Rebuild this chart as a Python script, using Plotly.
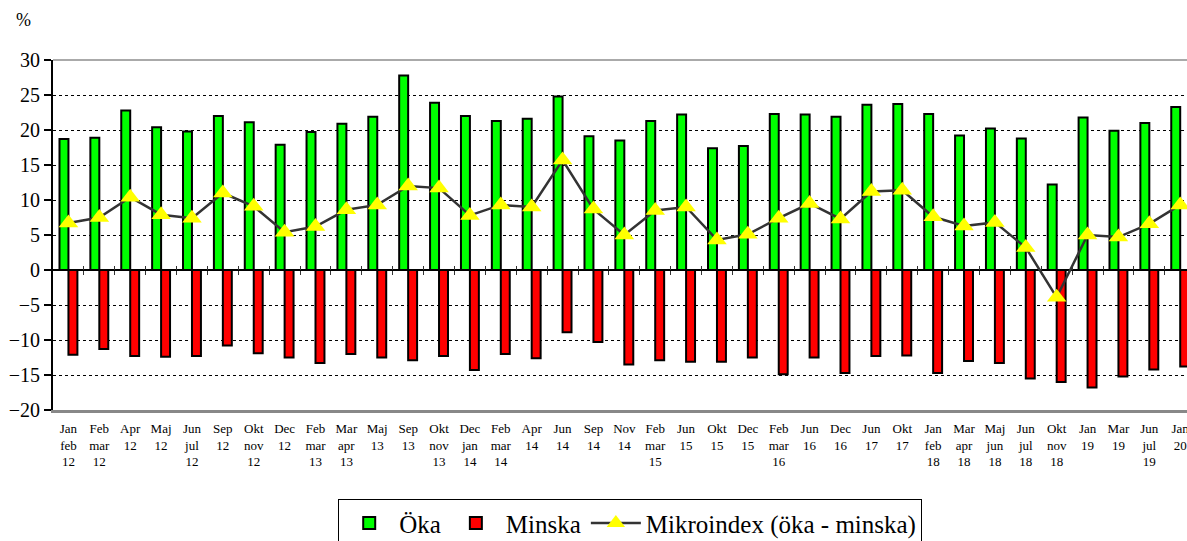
import plotly.graph_objects as go

labels = ["Jan<br>feb<br>12", "Feb<br>mar<br>12", "Apr<br>12", "Maj<br>12", "Jun<br>jul<br>12",
          "Sep<br>12", "Okt<br>nov<br>12", "Dec<br>12", "Feb<br>mar<br>13", "Mar<br>apr<br>13",
          "Maj<br>13", "Sep<br>13", "Okt<br>nov<br>13", "Dec<br>jan<br>14", "Feb<br>mar<br>14",
          "Apr<br>14", "Jun<br>14", "Sep<br>14", "Nov<br>14", "Feb<br>mar<br>15", "Jun<br>15",
          "Okt<br>15", "Dec<br>15", "Feb<br>mar<br>16", "Jun<br>16", "Dec<br>16", "Jun<br>17",
          "Okt<br>17", "Jan<br>feb<br>18", "Mar<br>apr<br>18", "Maj<br>jun<br>18", "Jun<br>jul<br>18",
          "Okt<br>nov<br>18", "Jan<br>19", "Mar<br>19", "Jun<br>jul<br>19", "Jan<br>20"]

oka = [18.7, 18.9, 22.8, 20.4, 19.8, 22.0, 21.1, 17.9, 19.7, 20.9,
       21.9, 27.8, 23.9, 22.0, 21.3, 21.6, 24.8, 19.1, 18.5, 21.3,
       22.2, 17.4, 17.7, 22.3, 22.2, 21.9, 23.6, 23.7, 22.3, 19.2,
       20.2, 18.8, 12.2, 21.8, 19.9, 21.0, 23.3]

minska = [-12.1, -11.3, -12.3, -12.4, -12.3, -10.8, -11.9, -12.5, -13.3, -12.0,
          -12.5, -12.9, -12.3, -14.3, -12.0, -12.6, -8.9, -10.3, -13.5, -12.9,
          -13.1, -13.1, -12.5, -14.9, -12.5, -14.7, -12.3, -12.2, -14.7, -13.0,
          -13.3, -15.5, -16.0, -16.8, -15.2, -14.2, -13.8]

mikroindex = [6.7, 7.5, 10.4, 7.9, 7.4, 11.0, 9.1, 5.4, 6.2, 8.6,
              9.3, 12.0, 11.7, 7.8, 9.3, 9.0, 15.7, 8.7, 5.0, 8.5,
              9.0, 4.3, 5.1, 7.4, 9.5, 7.3, 11.2, 11.4, 7.6, 6.3,
              6.8, 3.2, -3.9, 5.0, 4.7, 6.6, 9.3]

y_ticks = [-20, -15, -10, -5, 0, 5, 10, 15, 20, 25, 30]

idx = list(range(len(labels)))
bounds = [i + 0.5 for i in idx]
FONT = "Liberation Serif"

fig = go.Figure()
fig.add_trace(go.Bar(x=idx, y=oka, name="Öka",
                     marker=dict(color="#00FF00", line=dict(color="black", width=2))))
fig.add_trace(go.Bar(x=idx, y=minska, name="Minska",
                     marker=dict(color="#FF0000", line=dict(color="black", width=2))))
fig.add_trace(go.Scatter(x=idx, y=mikroindex, name="Mikroindex (öka - minska)",
                         mode="lines+markers",
                         line=dict(color="#333333", width=2.5),
                         marker=dict(symbol="triangle-up", size=17, color="#FFFF00",
                                     line=dict(width=0))))
# dummy traces to activate the tick-mark overlay axes at y=0
fig.add_trace(go.Scatter(x=[None], y=[None], xaxis="x2", showlegend=False, hoverinfo="skip"))
fig.add_trace(go.Scatter(x=[None], y=[None], xaxis="x3", showlegend=False, hoverinfo="skip"))

xr = [-0.5, 36.22]
fig.update_layout(
    width=1187, height=541,
    margin=dict(l=53, r=0, t=60, b=131, autoexpand=False),
    paper_bgcolor="white", plot_bgcolor="white",
    barmode="group", bargap=0.42, bargroupgap=0,
    font=dict(family=FONT, color="black"),
    showlegend=True,
    legend=dict(orientation="h", x=0.509, xanchor="center", y=-0.255, yanchor="top",
                font=dict(size=25, family=FONT), bordercolor="black", borderwidth=1,
                itemwidth=50, tracegroupgap=0),
    xaxis=dict(range=xr, tickmode="array", tickvals=idx, ticktext=labels,
               tickfont=dict(size=13, family=FONT), ticks="", showgrid=False,
               showline=True, linecolor="#888888", linewidth=3, zeroline=False,
               tickangle=0, automargin=False, ticklabelstandoff=4,
               ticklabeloverflow="allow"),
    xaxis2=dict(range=xr, overlaying="x", anchor="free", position=0.4,
                tickmode="array", tickvals=bounds, ticks="outside", ticklen=4,
                tickwidth=1, tickcolor="#333333", showticklabels=False,
                showgrid=False, showline=False, zeroline=False, automargin=False),
    xaxis3=dict(range=xr, overlaying="x", anchor="free", position=0.4,
                tickmode="array", tickvals=bounds, ticks="inside", ticklen=4,
                tickwidth=1, tickcolor="#333333", showticklabels=False,
                showgrid=False, showline=False, zeroline=False, automargin=False),
    yaxis=dict(range=[-20, 30], tickmode="array", tickvals=y_ticks,
               tickfont=dict(size=20, family=FONT), ticks="outside", ticklen=7,
               tickcolor="black", tickwidth=1.5, automargin=False,
               showline=True, linecolor="black", linewidth=2,
               showgrid=True, gridcolor="black", griddash="dot", gridwidth=1,
               zeroline=True, zerolinecolor="black", zerolinewidth=1.5),
    shapes=[dict(type="line", xref="paper", yref="paper", x0=0, x1=1, y0=1, y1=1,
                 line=dict(color="#AAAAAA", width=2))],
    annotations=[dict(text="%", xref="paper", yref="paper", x=-0.0256, y=1.114,
                      xanchor="center", yanchor="middle",
                      showarrow=False, font=dict(size=18, family=FONT))],
)

fig.write_html("out.html", config={"displayModeBar": False},
               post_script="document.body.style.margin='0';document.body.style.padding='0';")
